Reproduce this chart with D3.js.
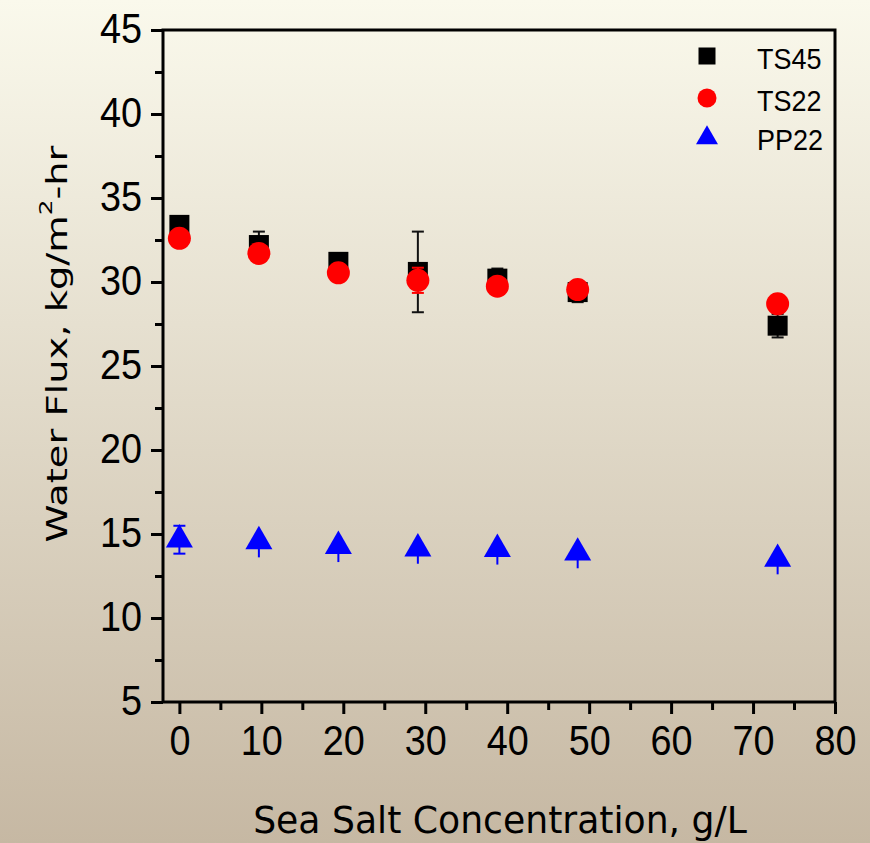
<!DOCTYPE html>
<meta charset="utf-8">
<style>
    body { margin: 0; }
    .frame { fill: none; stroke: #000; stroke-width: 3; }
    .tick line { stroke: #000; stroke-width: 3; }
    .tick text { font-family: "Liberation Sans", Arial, sans-serif; font-size: 42px; fill: #000; }
    .title { font-family: "DejaVu Sans", Tahoma, sans-serif; fill: #000; }
    .legend text { font-family: "Liberation Sans", Arial, sans-serif; font-size: 29px; fill: #000; }
</style>
<body></body>
<script src="https://d3js.org/d3.v7.min.js"></script>
<script>
    // data
    var salt = [0, 9.7, 19.4, 29.1, 38.8, 48.6, 73.0];
    var ts45 = [33.4, 32.2, 31.2, 30.6, 30.2, 29.4, 27.4];
    var ts45Err = [0.2, 0.8, 0.3, 2.4, 0.6, 0.6, 0.7];
    var ts22 = [32.6, 31.7, 30.55, 30.1, 29.75, 29.55, 28.7];
    var ts22Err = [0.4, 0.4, 0.4, 0.75, 0.4, 0.4, 0.4];
    var pp22 = [14.66, 14.56, 14.28, 14.13, 14.1, 13.88, 13.51];
    var pp22ErrLo = [0.83, 0.95, 0.95, 0.9, 0.92, 0.92, 0.91];
    var pp22ErrHi = [0.83, 0, 0, 0, 0, 0, 0];
    var xTicks = [0, 10, 20, 30, 40, 50, 60, 70, 80];
    var yTicks = [5, 10, 15, 20, 25, 30, 35, 40, 45];
    var seriesNames = ["TS45", "TS22", "PP22"];

    var W = 870, H = 843;
    var pLeft = 163, pRight = 835, pTop = 30, pBottom = 702;

    var x = d3.scaleLinear().domain([-2, 80]).range([pLeft, pRight]);
    var y = d3.scaleLinear().domain([5, 45]).range([pBottom, pTop]);

    var svg = d3.select("body").append("svg")
        .attr("width", W)
        .attr("height", H);

    // background gradient
    var grad = svg.append("defs").append("linearGradient")
        .attr("id", "bg").attr("x1", 0).attr("y1", 0).attr("x2", 0).attr("y2", 1);
    grad.append("stop").attr("offset", "0%").attr("stop-color", "#faf9ec");
    grad.append("stop").attr("offset", "100%").attr("stop-color", "#c6b8a3");
    svg.append("rect").attr("width", W).attr("height", H).attr("fill", "url(#bg)");

    // minor ticks
    var minorX = d3.range(5, 80, 10);
    var minorY = d3.range(7.5, 45, 5);

    svg.append("g")
        .attr("transform", "translate(0," + pBottom + ")")
        .call(d3.axisBottom(x).tickValues(minorX).tickSize(8).tickFormat(""))
        .call(g => g.select(".domain").remove());
    svg.append("g")
        .attr("transform", "translate(" + pLeft + ",0)")
        .call(d3.axisLeft(y).tickValues(minorY).tickSize(8).tickFormat(""))
        .call(g => g.select(".domain").remove());

    // major ticks; labels narrowed a little like the original
    var narrow = 0.9;
    svg.append("g")
        .attr("transform", "translate(0," + pBottom + ")")
        .call(d3.axisBottom(x).tickValues(xTicks).tickSize(12).tickPadding(11).tickFormat(d3.format("d")))
        .call(g => g.select(".domain").remove())
        .selectAll(".tick text")
        .attr("transform", function () {
            return "translate(0," + d3.select(this).attr("y") + ") scale(" + narrow + ",1)";
        })
        .attr("y", 0);
    svg.append("g")
        .attr("transform", "translate(" + pLeft + ",0)")
        .call(d3.axisLeft(y).tickValues(yTicks).tickSize(12).tickPadding(9).tickFormat(d3.format("d")))
        .call(g => g.select(".domain").remove())
        .selectAll(".tick text")
        .attr("dy", "0.3em")
        .attr("transform", function () {
            return "translate(" + d3.select(this).attr("x") + ",0) scale(" + narrow + ",1)";
        })
        .attr("x", 0);

    svg.append("rect").attr("class", "frame")
        .attr("x", pLeft).attr("y", pTop)
        .attr("width", pRight - pLeft).attr("height", pBottom - pTop);

    // error bars
    function errorBars(vals, lo, hi, color, cap) {
        var g = svg.append("g").attr("stroke", color).attr("stroke-width", 2);
        salt.forEach(function (s, i) {
            var cx = x(s);
            g.append("line").attr("x1", cx).attr("x2", cx)
                .attr("y1", y(vals[i] - lo[i])).attr("y2", y(vals[i] + hi[i]));
            if (hi[i] > 0) {
                [vals[i] - lo[i], vals[i] + hi[i]].forEach(function (v) {
                    g.append("line").attr("x1", cx - cap).attr("x2", cx + cap)
                        .attr("y1", y(v)).attr("y2", y(v));
                });
            }
        });
    }

    var sq = 20;
    errorBars(ts45, ts45Err, ts45Err, "#111", 6);
    svg.append("g").selectAll("rect").data(ts45).join("rect")
        .attr("x", (d, i) => x(salt[i]) - sq / 2)
        .attr("y", d => y(d) - sq / 2)
        .attr("width", sq).attr("height", sq)
        .attr("fill", "#000");

    errorBars(ts22, ts22Err, ts22Err, "#ff0000", 6);
    svg.append("g").selectAll("circle").data(ts22).join("circle")
        .attr("cx", (d, i) => x(salt[i]))
        .attr("cy", d => y(d))
        .attr("r", 11.5)
        .attr("fill", "#ff0000");

    errorBars(pp22, pp22ErrLo, pp22ErrHi, "#0000ff", 6);
    var tri = d3.symbol().type(d3.symbolTriangle).size(316);
    svg.append("g").selectAll("path").data(pp22).join("path")
        .attr("transform", (d, i) => "translate(" + x(salt[i]) + "," + y(d) + ")")
        .attr("d", tri)
        .attr("fill", "#0000ff");

    // legend
    var leg = svg.append("g").attr("class", "legend");
    var legY = [56, 98, 137];
    leg.append("rect").attr("x", 707 - 8.5).attr("y", legY[0] - 8.5)
        .attr("width", 17).attr("height", 17).attr("fill", "#000");
    leg.append("circle").attr("cx", 707).attr("cy", legY[1]).attr("r", 9.5).attr("fill", "#ff0000");
    leg.append("path").attr("transform", "translate(707," + (legY[2] + 1) + ")")
        .attr("d", d3.symbol().type(d3.symbolTriangle).size(209)).attr("fill", "#0000ff");
    leg.selectAll("text").data(seriesNames).join("text")
        .attr("transform", (d, i) => "translate(757," + (legY[i] + 13) + ") scale(0.93,1)")
        .text(d => d);

    // axis titles
    var xt = svg.append("text").attr("class", "title")
        .attr("font-size", 38)
        .attr("text-anchor", "middle")
        .text("Sea Salt Concentration, g/L");
    var xw = xt.node().getComputedTextLength();
    xt.attr("transform", "translate(500,833) scale(" + (494 / xw) + ",1)");

    var yt = svg.append("text").attr("class", "title")
        .attr("font-size", 28)
        .attr("text-anchor", "middle");
    yt.append("tspan").text("Water Flux, kg/m");
    yt.append("tspan").attr("font-size", 18).attr("dy", -15).text("2");
    yt.append("tspan").attr("dy", 15).text("-hr");
    var yw = yt.node().getComputedTextLength();
    yt.attr("transform", "translate(67,344) rotate(-90) scale(" + (397 / yw) + ",1)");
</script>
